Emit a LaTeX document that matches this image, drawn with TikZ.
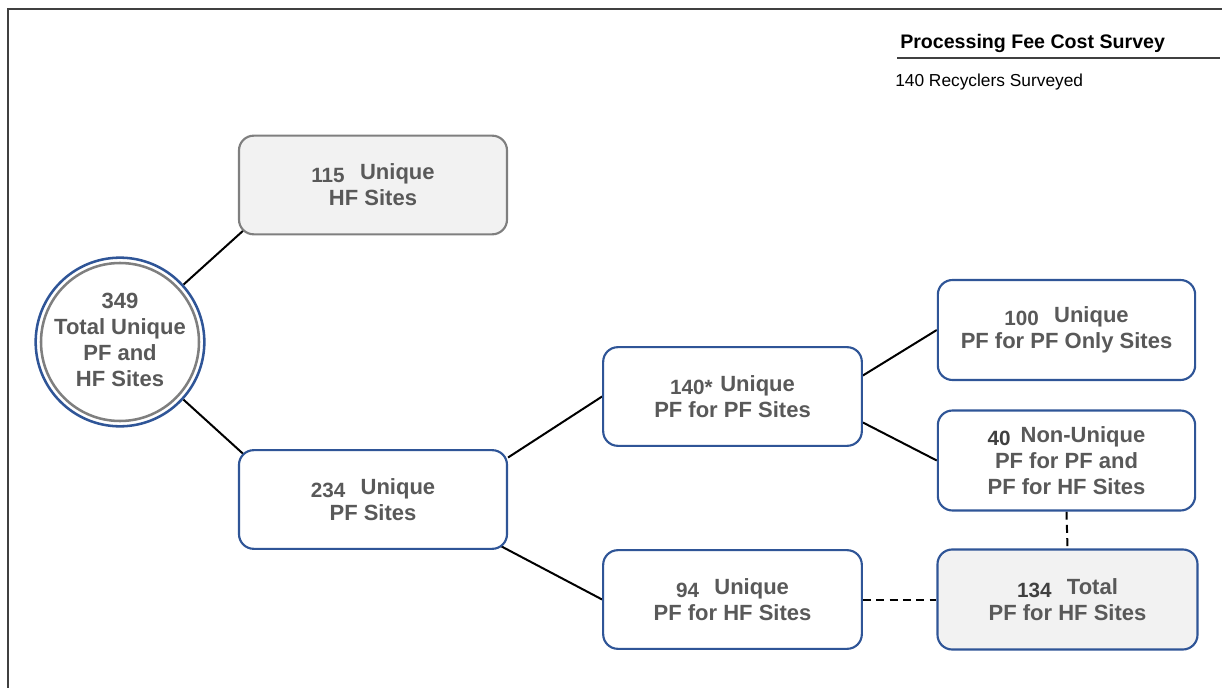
\documentclass[tikz,border=0pt]{standalone}
\usepackage{fontspec}
\setmainfont{Liberation Sans}
\definecolor{SurveyBlue}{HTML}{2F5597}
\definecolor{SurveyText}{HTML}{595959}
\definecolor{SurveyDark}{HTML}{404040}
\definecolor{SurveyLine}{HTML}{7F7F7F}
\definecolor{SurveyFill}{HTML}{F2F2F2}
\usetikzlibrary{positioning, calc, backgrounds}
\newcommand{\sitecount}[2][SurveyText]{\raisebox{-2pt}{\color{#1}\fontsize{15.5}{18}\selectfont #2}\hspace{0.7em}}
\tikzset{
    sitebox/.style={
        draw=SurveyBlue,
        line width=1.6pt,
        fill=#1,
        rounded corners=11pt,
        minimum width=194pt,
        minimum height=74pt,
        text=SurveyText,
        font=\fontsize{16.5}{19.5}\selectfont\bfseries,
        align=center,
        inner sep=2pt
    },
    sitebox/.default=white,
    hfbox/.style={
        sitebox=SurveyFill,
        draw=SurveyLine
    },
    ring/.style={
        circle,
        draw=#1,
        line width=1.9pt,
        fill=white,
        inner sep=0pt
    },
    link/.style={
        line width=1.5pt,
        black
    },
    dashlink/.style={
        link,
        dash pattern=on 6pt off 4pt
    }
}

\begin{document}
\begin{tikzpicture}[x=0.75pt, y=-0.75pt]
    \useasboundingbox (0,0) rectangle (1222,688);

    % Frame
    \draw[SurveyDark, line width=1.5pt] (8,688) -- (8,9) -- (1222,9);

    % Heading
    \node[anchor=base west, inner sep=0pt, font=\fontsize{14.7}{17}\selectfont\bfseries] (title) at (900,49) {Processing Fee Cost Survey};
    \draw[SurveyDark, line width=1.4pt] (897,58) -- (1220,58);
    \node[anchor=base west, inner sep=0pt, font=\fontsize{13}{15}\selectfont] (surveyed) at (895,87) {140 Recyclers Surveyed};

    % Total sites
    \node[ring=SurveyBlue, minimum size=126.5pt] (total) at (120,342) {};
    \node[ring=SurveyLine, minimum size=118.5pt] (totalin) at (total) {};
    \node[text=SurveyText, font=\fontsize{16.5}{19.5}\selectfont\bfseries, align=center] (totaltext) at (120,340) {349\\Total Unique\\PF and\\HF Sites};

    % First split
    \node[hfbox, minimum width=201pt] (hf) at (373,185) {\sitecount{115}Unique\\HF Sites};
    \node[sitebox, minimum width=201pt] (pf) at (373,499.5) {\sitecount{234}Unique\\PF Sites};

    % PF sites
    \node[sitebox] (pfpf) at (732.5,396.5) {\sitecount{140*}\hspace{-0.35em}Unique\\PF for PF Sites};
    \node[sitebox] (pfhf) at (732.5,599.5) {\sitecount{94}Unique\\PF for HF Sites};

    % Right column
    \node[sitebox, minimum width=193pt, minimum height=75pt] (pfonly) at (1066.5,330) {\sitecount{100}Unique\\PF for PF Only Sites};
    \node[sitebox, minimum width=193pt, minimum height=75pt] (nonunique) at (1066.5,460.5) {\sitecount[SurveyDark]{40}\hspace{-0.25em}Non-Unique\\PF for PF and\\PF for HF Sites};
    \node[sitebox=SurveyFill, minimum width=195pt, minimum height=75pt] (pfhftotal) at (1067.5,599.5) {\sitecount[SurveyDark]{134}Total\\PF for HF Sites};

    % Connectors
    \begin{scope}[on background layer]
        \draw[link, shorten >=-8pt] (total) -- (hf.south west);
        \draw[link, shorten >=-8pt] (total) -- (pf.north west);
        \draw[link] ($(pf.east)+(0,-42)$) -- (pfpf.west);
        \draw[link, shorten <=-8pt] (pf.south east) -- (pfhf.west);
        \draw[link] ($(pfpf.east)+(0,-21)$) -- (pfonly.west);
        \draw[link] ($(pfpf.east)+(0,26)$) -- (nonunique.west);
        \draw[dashlink] (pfhf.east) -- (pfhftotal.west);
        \draw[dashlink] (nonunique.south) -- (pfhftotal.north);
    \end{scope}
\end{tikzpicture}
\end{document}
